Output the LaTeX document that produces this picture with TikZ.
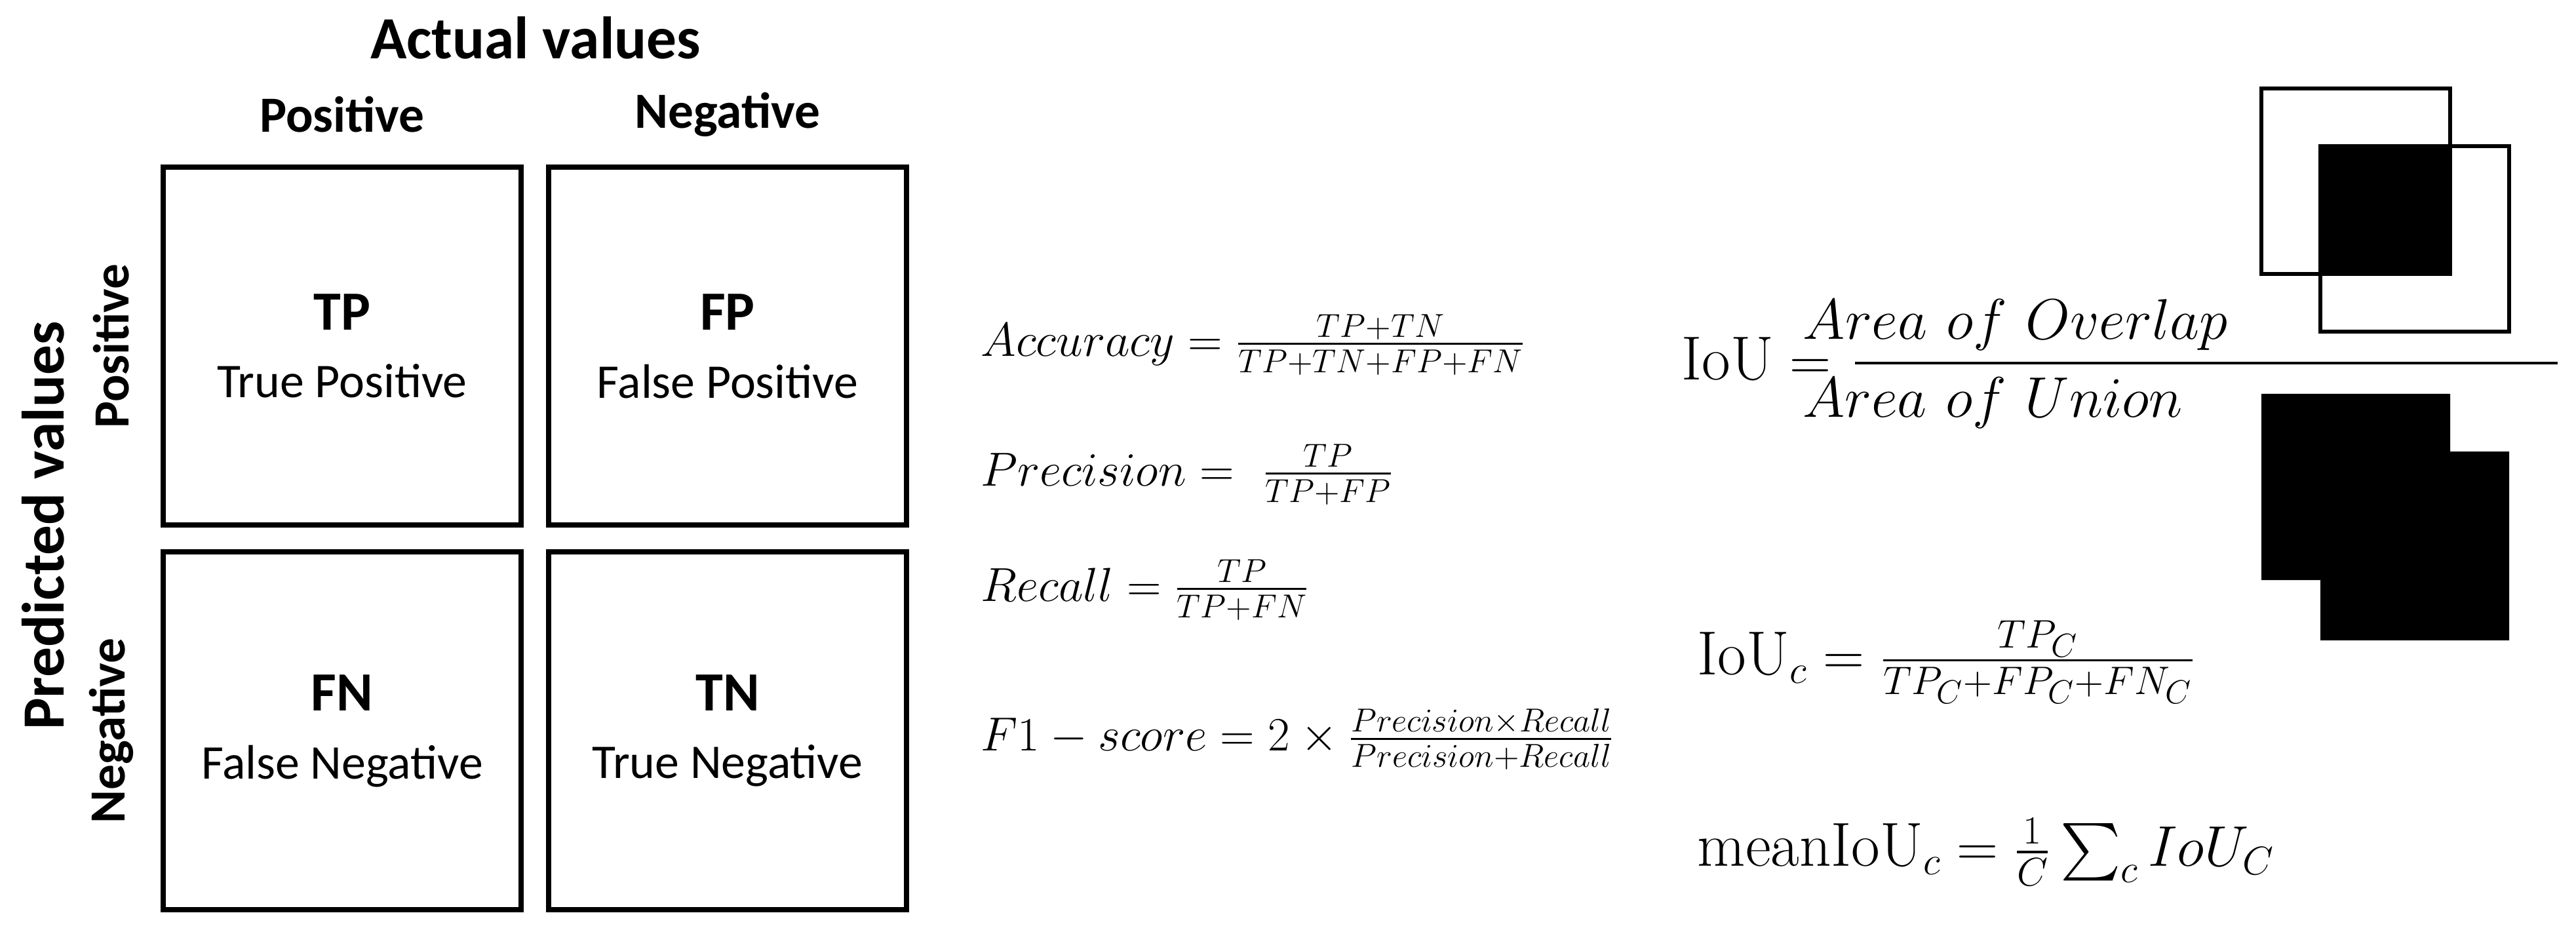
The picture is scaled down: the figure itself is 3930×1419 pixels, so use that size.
\documentclass[tikz,border=0pt]{standalone}
\usepackage{fontspec}
\usepackage{amsmath}
\newfontfamily\carl{Carlito}
\begin{document}
\begin{tikzpicture}[x=0.01cm,y=-0.01cm,
  cell/.style={draw,line width=2.2pt,minimum width=5.45cm,minimum height=5.45cm,align=center,inner sep=0},
  hd/.style={font=\carl\fontsize{22}{26}\selectfont\bfseries},
  eq/.style={anchor=west,inner sep=0,font=\fontsize{22}{26}\selectfont},
  box/.style={draw,line width=1.8pt}]
\useasboundingbox (0,0) rectangle (3930,1419);
\node[hd,font=\carl\fontsize{26}{30}\selectfont\bfseries] (av) at (817,58) {Actual values};
\node[hd] (cp) at (522,175) {Positive};
\node[hd] (cn) at (1110,175) {Negative};
\node[hd,font=\carl\fontsize{26}{30}\selectfont\bfseries,rotate=90] (pv) at (66,802) {Predicted values};
\node[hd,rotate=90] (rp) at (170,528) {Positive};
\node[hd,rotate=90] (rn) at (170,1115) {Negative};
\foreach \n/\x/\y/\a/\b in {tp/522/528/TP/True Positive,fp/1110/528/FP/False Positive,fn/522/1115/FN/False Negative,tn/1110/1115/TN/True Negative}{
  \node[cell] (\n) at (\x,\y) {{\carl\fontsize{24}{28}\selectfont\bfseries \a}\\[14pt]{\carl\fontsize{21}{24}\selectfont \b}};
}
\node[eq] (acc) at (1496,526) {$Accuracy=\frac{TP+TN}{TP+TN+FP+FN}$};
\node[eq] (pre) at (1496,724) {$Precision=\ \frac{TP}{TP+FP}$};
\node[eq] (rec) at (1496,900) {$Recall=\frac{TP}{TP+FN}$};
\node[eq] (f1) at (1496,1128) {$F1-score=2\times\frac{Precision\times Recall}{Precision+Recall}$};
\begin{scope}[font=\fontsize{27}{32}\selectfont]
\node[anchor=base west,inner sep=0] (iou) at (2565,580) {$\mathrm{IoU}=$};
\node[inner sep=0,anchor=south] (num) at (3075,535) {$Area\ of\ Overlap$};
\node[inner sep=0,anchor=north] (den) at (3040,575) {$Area\ of\ Union$};
\coordinate (l1) at (2830,554);
\coordinate (l2) at (3902,554);
\draw[line width=1.2pt] (l1) -- (l2);
\node[anchor=west,inner sep=0] (iouc) at (2589,1010) {$\mathrm{IoU}_c=\frac{TP_C}{TP_C+FP_C+FN_C}$};
\node[anchor=west,inner sep=0] (miou) at (2589,1300) {$\mathrm{meanIoU}_c=\frac{1}{C}\sum_c IoU_C$};
\end{scope}
\fill (3540,223) rectangle (3738,418);
\draw[box] (3450,135) rectangle (3738,418);
\draw[box] (3540,223) rectangle (3828,506);
\fill (3450,601) -- (3738,601) -- (3738,689) -- (3828,689) -- (3828,977) -- (3540,977) -- (3540,885) -- (3450,885) -- cycle;
\end{tikzpicture}
\end{document}
